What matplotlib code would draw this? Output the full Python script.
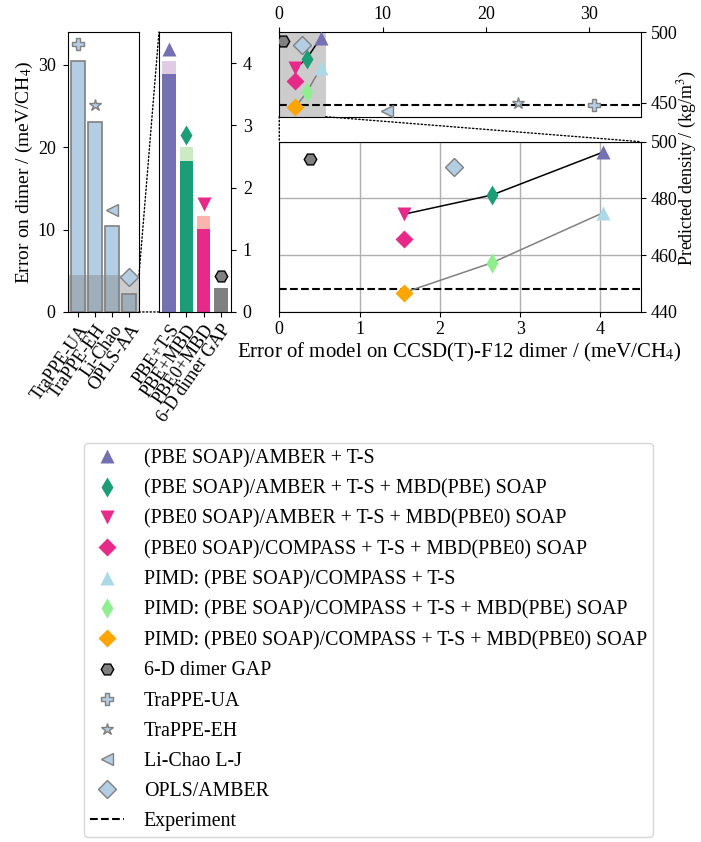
import matplotlib
matplotlib.use('Agg')
import matplotlib.pyplot as plt
from matplotlib.patches import ConnectionPatch
from matplotlib.lines import Line2D

plt.rcParams['font.family'] = 'serif'
plt.rcParams['font.serif'] = ['Liberation Serif', 'DejaVu Serif']
plt.rcParams['mathtext.fontset'] = 'stix'
plt.rcParams['font.size'] = 13
plt.rcParams['xtick.labelsize'] = 13
plt.rcParams['ytick.labelsize'] = 13
plt.rcParams['axes.labelsize'] = 14
plt.rcParams['ytick.major.pad'] = 5

# dimer errors of the empirical force fields (meV/CH4)
ff_names = ['TraPPE-UA', 'TraPPE-EH', 'Li-Chao', 'OPLS-AA']
ff_err = [30.5, 23.1, 10.4, 2.2]

# dimer errors of the GAP models: base error + extra part stacked on top
gap_names = ['PBE+T-S', 'PBE+MBD', 'PBE0+MBD', '6-D dimer GAP']
gap_err_base = [3.83, 2.43, 1.33, 0.39]
gap_err_extra = [0.21, 0.22, 0.22, 0.0]

# predicted densities vs. dimer error
model_labels = [
    '(PBE SOAP)/AMBER + T-S',
    '(PBE SOAP)/AMBER + T-S + MBD(PBE) SOAP',
    '(PBE0 SOAP)/AMBER + T-S + MBD(PBE0) SOAP',
    '(PBE0 SOAP)/COMPASS + T-S + MBD(PBE0) SOAP',
    'PIMD: (PBE SOAP)/COMPASS + T-S',
    'PIMD: (PBE SOAP)/COMPASS + T-S + MBD(PBE) SOAP',
    'PIMD: (PBE0 SOAP)/COMPASS + T-S + MBD(PBE0) SOAP',
    '6-D dimer GAP',
    'TraPPE-UA',
    'TraPPE-EH',
    'Li-Chao L-J',
    'OPLS/AMBER',
]
model_err = [4.03, 2.65, 1.55, 1.55, 4.03, 2.65, 1.55, 0.38, 30.5, 23.1, 10.4, 2.18]
model_density = [496.3, 481.2, 474.4, 465.6, 474.9, 457.3, 446.7, 493.8, 448.6, 449.7, 444.2, 491.2]
exp_density = 448.0

# series joined by lines (indices into the model lists)
classical_path = [0, 1, 2]
pimd_path = [4, 5, 6]

ff_color = '#b3cde3'
markers = ['^', 'd', 'v', 'D', '^', 'd', 'D', 'H', 'P', '*', '<', 'D']
face = ['#7570b3', '#1b9e77', '#e7298a', '#e7298a', 'lightblue', 'lightgreen', 'orange',
        'gray', ff_color, ff_color, ff_color, ff_color]
edge = ['none'] * 7 + ['black', 'gray', 'gray', 'gray', 'gray']
sizes = [10, 10, 10, 9, 10, 10, 9, 9, 8, 9, 9, 9]

gap_dark = ['#7570b3', '#1b9e77', '#e7298a', 'gray']
gap_light = ['#decbe4', '#ccebc5', '#fbb4ae', 'gray']

fig = plt.figure(figsize=(7.01, 8.42), dpi=100)
ax_ff = fig.add_axes([0.0963, 0.6295, 0.102, 0.3325])
ax_gap = fig.add_axes([0.2268, 0.6295, 0.1027, 0.3325])
ax_top = fig.add_axes([0.3984, 0.8614, 0.5155, 0.1002])
ax_bot = fig.add_axes([0.3984, 0.6298, 0.5155, 0.2019])

# force field bars
xs = range(len(ff_names))
ax_ff.bar(xs, ff_err, width=0.8, color=ff_color, edgecolor='gray', linewidth=1.2, zorder=1)
ax_ff.axhspan(0, 4.5, color='gray', alpha=0.4, lw=0, zorder=2)
for i, name in enumerate(ff_names):
    k = 8 + i
    ax_ff.plot(i, ff_err[i] + 2.0, markers[k], ms=sizes[k], mfc=face[k], mec=edge[k],
               mew=1, zorder=3, clip_on=False)
ax_ff.set_ylim(0, 34)
ax_ff.set_xlim(-0.6, 3.6)
ax_ff.set_xticks(list(xs))
ax_ff.set_xticklabels(ff_names, rotation=55, ha='right', rotation_mode='anchor')
ax_ff.set_yticks([0, 10, 20, 30])
ax_ff.set_ylabel('Error on dimer / (meV/CH$_4$)', labelpad=2)

# GAP bars
xs = range(len(gap_names))
ax_gap.bar(xs, gap_err_base, width=0.8, color=gap_dark, zorder=1)
ax_gap.bar(xs, gap_err_extra, width=0.8, bottom=gap_err_base, color=gap_light, zorder=1)
gap_marker_idx = [0, 1, 2, 7]
for i in xs:
    k = gap_marker_idx[i]
    top = gap_err_base[i] + gap_err_extra[i]
    ax_gap.plot(i, top + 0.19, markers[k], ms=sizes[k], mfc=face[k], mec=edge[k],
                mew=1, zorder=3, clip_on=False)
ax_gap.set_ylim(0, 4.5)
ax_gap.set_xlim(-0.6, 3.6)
ax_gap.set_xticks(list(xs))
ax_gap.set_xticklabels(gap_names, rotation=55, ha='right', rotation_mode='anchor')
ax_gap.yaxis.tick_right()
ax_gap.set_yticks([0, 1, 2, 3, 4])


def density_panel(ax):
    ax.axhline(exp_density, color='black', ls='--', lw=1.5, zorder=2)
    ax.plot([model_err[i] for i in classical_path],
            [model_density[i] for i in classical_path], color='black', lw=1.1, zorder=2)
    ax.plot([model_err[i] for i in pimd_path],
            [model_density[i] for i in pimd_path], color='gray', lw=1.1, zorder=2)
    for k in range(len(model_labels)):
        ax.plot(model_err[k], model_density[k], markers[k], ms=sizes[k], mfc=face[k],
                mec=edge[k], mew=1, ls='none', zorder=3, label=model_labels[k])
    ax.set_ylim(440, 500)
    ax.yaxis.tick_right()
    ax.tick_params(axis='y', pad=4)


density_panel(ax_top)
ax_top.axvspan(0, 4.5, color='gray', alpha=0.4, lw=0, zorder=1)
ax_top.set_xlim(0, 35)
ax_top.xaxis.tick_top()
ax_top.set_xticks([0, 10, 20, 30])
ax_top.set_yticks([450, 500])

density_panel(ax_bot)
ax_bot.set_xlim(0, 4.5)
ax_bot.set_xticks([0, 1, 2, 3, 4])
ax_bot.set_yticks([440, 460, 480, 500])
ax_bot.grid(True, color='#b0b0b0', lw=1)
ax_bot.set_axisbelow(True)
ax_bot.set_xlabel('Error of model on CCSD(T)-F12 dimer / (meV/CH$_4$)', fontsize=15, labelpad=2)

fig.text(0.997, 0.80, 'Predicted density / (kg/m$^3$)', rotation=90, ha='right', va='center',
         fontsize=13)

# dotted zoom connectors
for xyA, xyB in [((1, 4.5), (0, 1)), ((1, 0), (0, 0))]:
    con = ConnectionPatch(xyA=xyA, coordsA=ax_ff.get_yaxis_transform(),
                          xyB=xyB, coordsB=ax_gap.transAxes, ls=':', lw=1, color='black')
    fig.add_artist(con)
for xyA, xyB in [((0, 440), (0, 1)), ((4.5, 440), (1, 1))]:
    con = ConnectionPatch(xyA=xyA, coordsA=ax_top.transData,
                          xyB=xyB, coordsB=ax_bot.transAxes, ls=':', lw=1, color='black')
    fig.add_artist(con)

handles, labels = ax_bot.get_legend_handles_labels()
handles.append(Line2D([], [], color='black', ls='--', lw=1.5))
labels.append('Experiment')
fig.legend(handles, labels, loc='upper left', bbox_to_anchor=(0.12, 0.474),
           fontsize=14.3, labelspacing=0.56, handlelength=1.7, handletextpad=1.0,
           borderpad=0.3, borderaxespad=0)

fig.savefig('out.png', dpi=100)
